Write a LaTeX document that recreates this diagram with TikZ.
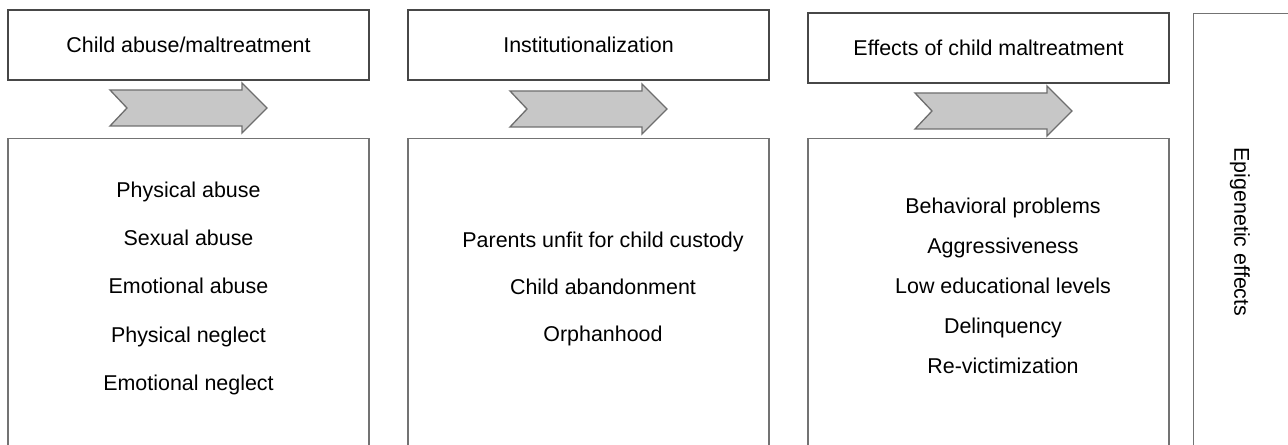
\documentclass[tikz,border=0pt]{standalone}
\usepackage{fontspec}
\setmainfont{Liberation Sans}
\usepackage{xcolor}
\usetikzlibrary{positioning}
\tikzstyle{head} = [draw=black!72, line width=0.75pt, minimum width=7.22cm, minimum height=1.4cm, inner sep=0pt, font=\fontsize{12.2}{14}\selectfont]
\tikzstyle{panel} = [draw=black!55, line width=0.75pt, inner sep=0pt]
\tikzstyle{chevron} = [draw=black!57, fill=black!22, line width=0.75pt, line join=miter]
\newcommand{\chevron}[2]{\draw[chevron] (#1,#2) ++(0,-18) -- ++(132,0) -- ++(0,-7) -- ++(25,25) -- ++(-25,25) -- ++(0,-7) -- ++(-132,0) -- ++(17,-18) -- cycle;}

\begin{document}
\begin{tikzpicture}[x=0.02cm, y=-0.02cm,
    item/.style={inner sep=0pt, text height=9pt, text depth=2.6pt, font=\fontsize{12.2}{14}\selectfont}]

    \useasboundingbox (0,0) rectangle (1288,445);
    \clip (0,0) rectangle (1288,445);

    % Headers
    \node[head] (abuse) at (188.5,45) {Child abuse/maltreatment};
    \node[head] (inst) at (588.5,45) {Institutionalization};
    \node[head] (effects) at (988.5,48) {Effects of child maltreatment};

    % Chevrons
    \chevron{110}{108}
    \chevron{510}{109}
    \chevron{915}{111}

    % Panels (open at the bottom)
    \node[panel, anchor=north, minimum width=7.22cm, minimum height=7cm] (abusebox) at (188.5,138) {};
    \node[panel, anchor=north, minimum width=7.22cm, minimum height=7cm] (instbox) at (588.5,138) {};
    \node[panel, anchor=north, minimum width=7.22cm, minimum height=7cm] (effectsbox) at (988.5,138) {};
    \node[panel, anchor=north west, minimum width=3cm, minimum height=9cm] (epibox) at (1193,13) {};

    % Child abuse items
    \node[item] (physab) at (188.5,191.4) {Physical abuse};
    \node[item] (sexab) [below of=physab, node distance=0.97cm] {Sexual abuse};
    \node[item] (emoab) [below of=sexab, node distance=0.97cm] {Emotional abuse};
    \node[item] (physneg) [below of=emoab, node distance=0.97cm] {Physical neglect};
    \node[item] (emoneg) [below of=physneg, node distance=0.97cm] {Emotional neglect};

    % Institutionalization items
    \node[item] (unfit) at (603,241.4) {Parents unfit for child custody};
    \node[item] (aband) [below of=unfit, node distance=0.94cm] {Child abandonment};
    \node[item] (orphan) [below of=aband, node distance=0.94cm] {Orphanhood};

    % Effects items
    \node[item] (behav) at (1003,207.4) {Behavioral problems};
    \node[item] (aggr) [below of=behav, node distance=0.805cm] {Aggressiveness};
    \node[item] (lowedu) [below of=aggr, node distance=0.805cm] {Low educational levels};
    \node[item] (delinq) [below of=lowedu, node distance=0.805cm] {Delinquency};
    \node[item] (revict) [below of=delinq, node distance=0.805cm] {Re-victimization};

    % Epigenetic
    \node[item, rotate=-90] (epi) at (1240,232) {Epigenetic effects};
\end{tikzpicture}
\end{document}
